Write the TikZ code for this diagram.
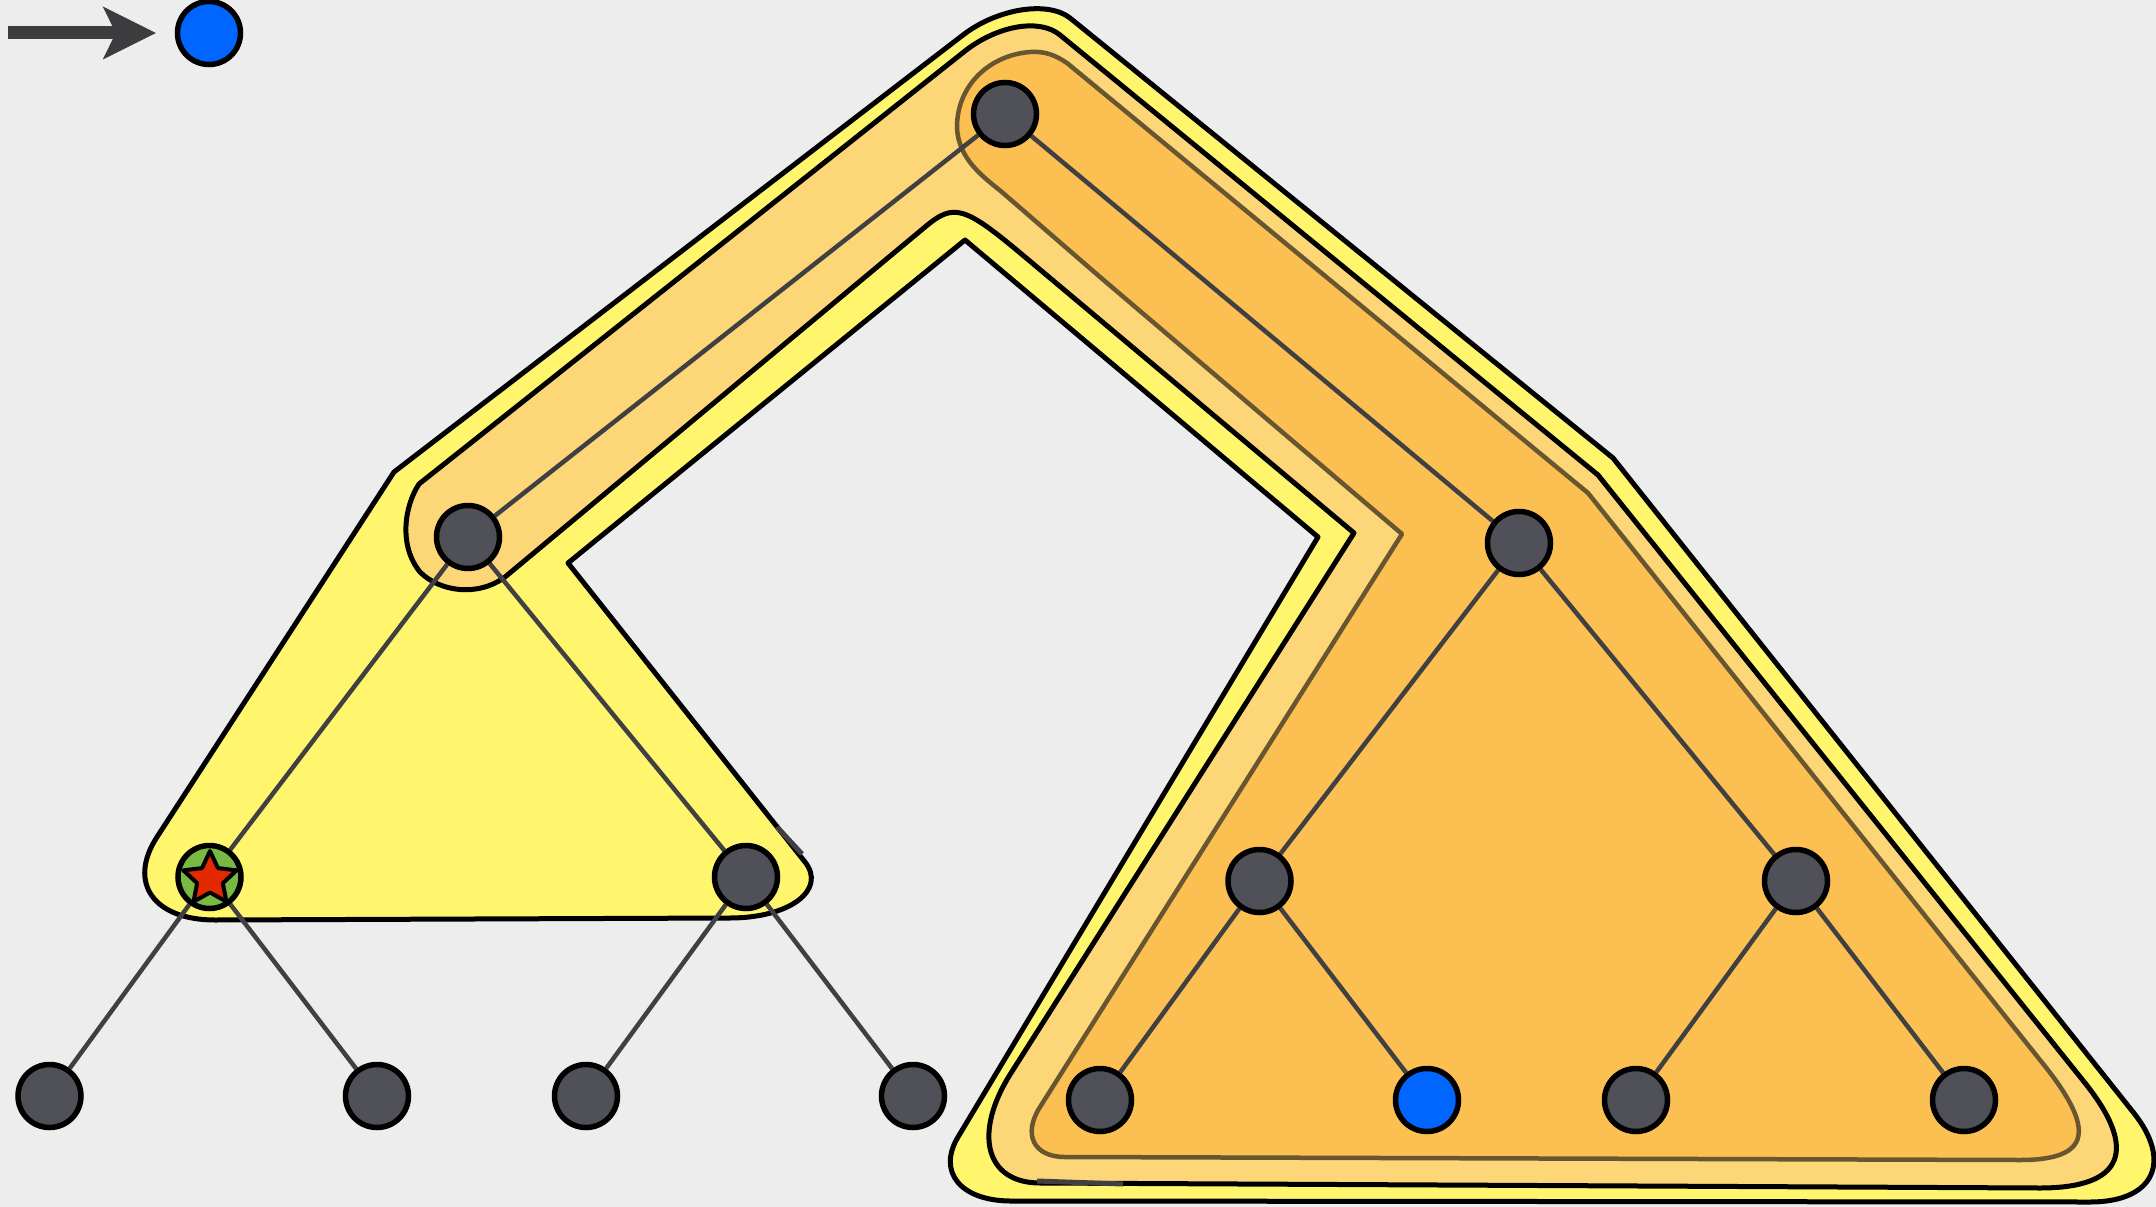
\documentclass[tikz,border=0pt]{standalone}
\usetikzlibrary{arrows.meta}
\definecolor{bg}{RGB}{237,237,237}
\definecolor{yel}{RGB}{255,246,110}
\definecolor{lor}{RGB}{253,214,120}
\definecolor{dor}{RGB}{252,191,82}
\definecolor{dorline}{RGB}{104,86,48}
\definecolor{nodegray}{RGB}{80,80,88}
\definecolor{edgegray}{RGB}{64,64,66}
\definecolor{nodeblue}{RGB}{0,102,255}
\definecolor{stargreen}{RGB}{120,184,67}
\definecolor{starred}{RGB}{228,40,0}
\definecolor{arrowgray}{RGB}{60,60,62}
\pgfdeclarelayer{regions}
\pgfdeclarelayer{edges}
\pgfsetlayers{regions,edges,main}
\begin{document}
\begin{tikzpicture}[x=1pt,y=-1pt,
  treenode/.style={circle, draw=black, line width=5.5pt, fill=nodegray, minimum size=63pt, inner sep=0pt},
  bluenode/.style={treenode, fill=nodeblue},
  greennode/.style={treenode, fill=stargreen},
  starshape/.style={draw=black, line width=4pt, line join=round, fill=starred},
  edge/.style={draw=edgegray, line width=4.5pt},
  blackline/.style={draw=black, line width=5pt, line join=round},
  dimline/.style={draw=dorline, line width=4.5pt, line join=round},
  smallmark/.style={draw=edgegray, line width=5pt},
  bigarrow/.style={draw=arrowgray, line width=13pt, -{Stealth[length=53pt, width=53pt, inset=13pt, line width=0pt]}, shorten >=19pt}
]
\useasboundingbox (0,0) rectangle (2156,1207);

\begin{pgfonlayer}{regions}
\fill[bg] (0,0) rectangle (2156,1207);
% yellow region
\path[fill=yel, blackline] (394,472) -- (963,35)
  .. controls (997.5,8.5) and (1047.7,0.5) .. (1070,18)
  -- (1613,458) -- (2133,1112)
  .. controls (2173,1161.5) and (2154,1202) .. (2090,1202)
  -- (1010,1201)
  .. controls (960.5,1200.5) and (937,1172) .. (958,1137)
  -- (1318,537) -- (965,240) -- (568,563) -- (805,862)
  .. controls (827,890) and (789.5,918) .. (730,918)
  -- (215,920)
  .. controls (153.4,920) and (127.3,882.6) .. (157,837)
  -- cycle;
% light orange region
\path[fill=lor, blackline] (419,484) -- (965,51)
  .. controls (998,25.2) and (1039.8,18.2) .. (1060,35)
  -- (1598,475) -- (2085,1083)
  .. controls (2139,1150.6) and (2123,1188) .. (2040,1188)
  -- (1040,1183)
  .. controls (985.5,1183) and (972.5,1133.5) .. (1011,1073)
  -- (1354,533) -- (1025,257)
  .. controls (964,205.7) and (954,202.7) .. (925,227)
  -- (505,577)
  .. controls (478,597) and (440,592) .. (420,572)
  .. controls (398,545) and (405,505) .. (419,484)
  -- cycle;
% dark orange region
\path[fill=dor, dimline] (1003,193)
  .. controls (985,178) and (958,160) .. (957,127)
  .. controls (957,85) and (990,55) .. (1030,52)
  .. controls (1045,51) and (1055,55) .. (1067,63)
  -- (1588,493) -- (2040,1060)
  .. controls (2097.4,1130) and (2091.4,1160) .. (2020,1160)
  -- (1065,1157)
  .. controls (1033.65,1157) and (1022.4,1134.5) .. (1040,1107)
  -- (1402,534) -- (1100,277) -- cycle;
% small marks
\draw[smallmark] (777,827) -- (802,854);
\draw[smallmark] (1037,1181) -- (1123,1184);
\end{pgfonlayer}

% nodes
\node[treenode] (root) at (1005,114) {};
\node[treenode] (nl) at (468,537) {};
\node[treenode] (nr) at (1519,543) {};
\node[greennode] (nll) at (209.5,877) {};
\node[treenode] (nlr) at (746,877) {};
\node[treenode] (nrl) at (1259.5,881) {};
\node[treenode] (nrr) at (1796,881) {};
\node[treenode] (a1) at (49.5,1096) {};
\node[treenode] (a2) at (377,1096) {};
\node[treenode] (a3) at (586,1096) {};
\node[treenode] (a4) at (913,1096) {};
\node[treenode] (b1) at (1100,1100) {};
\node[bluenode] (b2) at (1427,1100) {};
\node[treenode] (b3) at (1636,1100) {};
\node[treenode] (b4) at (1964,1100) {};
\node[bluenode] (start) at (209,33) {};
\coordinate (tail) at (8,33);

% red star on the marked node
\path[starshape] (210,851) -- (217.94,868.08) -- (236.63,870.35) -- (222.84,883.17)
  -- (226.46,901.65) -- (210,892.5) -- (193.54,901.65) -- (197.16,883.17)
  -- (183.37,870.35) -- (202.06,868.08) -- cycle;

\begin{pgfonlayer}{edges}
\path[edge] (root) -- (nl) (root) -- (nr)
  (nl) -- (nll) (nl) -- (nlr) (nr) -- (nrl) (nr) -- (nrr)
  (nll) -- (a1) (nll) -- (a2) (nlr) -- (a3) (nlr) -- (a4)
  (nrl) -- (b1) (nrl) -- (b2) (nrr) -- (b3) (nrr) -- (b4);
\end{pgfonlayer}

\draw[bigarrow] (tail) -- (start);
\end{tikzpicture}
\end{document}
